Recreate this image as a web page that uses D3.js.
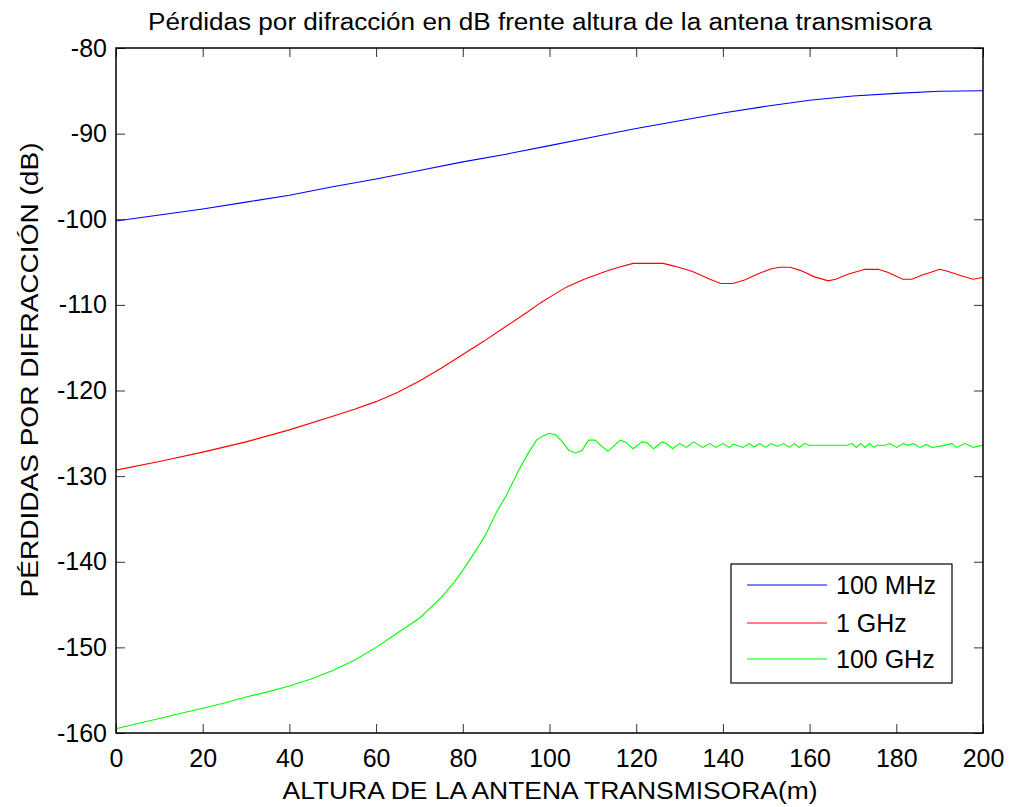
<!DOCTYPE html>
<html>
<head>
<meta charset="utf-8">
<script src="https://cdn.jsdelivr.net/npm/d3@7"></script>
<style>
  html, body { margin: 0; padding: 0; background: #fff; }
  svg { display: block; font-family: "Liberation Sans", Arial, sans-serif; }
</style>
</head>
<body>
<svg id="chart" width="1011" height="807"></svg>
<script>
// ---------- data ----------
const title = "Pérdidas por difracción en dB frente altura de la antena transmisora";
const xLabel = "ALTURA DE LA ANTENA TRANSMISORA(m)";
const yLabel = "PÉRDIDAS POR DIFRACCIÓN (dB)";
const xTicks = [0, 20, 40, 60, 80, 100, 120, 140, 160, 180, 200];
const yTicks = [-80, -90, -100, -110, -120, -130, -140, -150, -160];
const seriesNames = ["100 MHz", "1 GHz", "100 GHz"];

const blueX = [0, 10, 20, 30, 40, 50, 60, 70, 80, 90, 100, 110, 120, 130, 140, 150, 160, 170, 180, 190, 200];
const blueY = [-100.2, -99.5, -98.8, -98.0, -97.2, -96.2, -95.3, -94.3, -93.3, -92.4, -91.4, -90.4, -89.4, -88.5, -87.6, -86.8, -86.1, -85.6, -85.3, -85.05, -85.0];

const redX = [0, 10, 20, 30, 40, 50, 55, 60, 65, 70, 75, 80, 85, 90, 95, 97.8, 101, 104, 108, 113.2, 116, 119.3, 126.2, 129, 133, 137, 139.5, 142.3, 145, 148, 151, 153, 155.5, 158, 161, 164.3, 166, 169, 172.8, 175.8, 178, 181.5, 183.6, 186, 188, 190, 192, 195, 197.7, 200];
const redY = [-129.3, -128.3, -127.2, -126.0, -124.6, -123.0, -122.2, -121.3, -120.2, -118.9, -117.4, -115.8, -114.2, -112.5, -110.8, -109.8, -108.8, -107.9, -107.0, -106.05, -105.6, -105.15, -105.15, -105.5, -106.1, -107.0, -107.5, -107.5, -107.1, -106.4, -105.8, -105.6, -105.6, -106.0, -106.7, -107.2, -107.0, -106.4, -105.85, -105.85, -106.2, -107.0, -107.0, -106.5, -106.2, -105.85, -106.1, -106.6, -107.0, -106.8];

const greenX = [0, 5, 10, 15, 20, 25, 30, 35, 40, 45, 50, 55, 60, 65, 70, 75, 78, 80, 83, 85, 88, 90, 93, 95, 97, 98.5, 100, 101.5, 103, 104.5, 106, 107.5, 109, 110.5, 112, 113.5, 115, 116.3, 117.5, 119.3, 121.3, 122.5, 124, 126, 127, 128.4, 130, 131.6, 133.3, 135.3, 137, 138.4, 140, 141.5, 142.4, 144.6, 146.1, 147.2, 148.5, 149.8, 151.1, 152.6, 154, 155.4, 156.5, 157.6, 158.8, 160, 168.6, 169.8, 170.8, 171.8, 172.8, 173.8, 174.8, 175.6, 177.6, 178.5, 180.1, 181.6, 182.8, 183.9, 185.5, 186.9, 188.2, 190.1, 192.8, 193.9, 195.8, 197.8, 198.9, 200];
const greenY = [-159.5, -158.9, -158.3, -157.7, -157.1, -156.5, -155.8, -155.2, -154.5, -153.7, -152.7, -151.5, -150.0, -148.3, -146.6, -144.2, -142.4, -141.0, -138.7, -137.1, -134.0, -132.3, -129.2, -127.4, -125.8, -125.3, -125.0, -125.2, -126.0, -127.0, -127.3, -127.0, -125.8, -125.8, -126.5, -127.1, -126.4, -125.8, -126.0, -126.8, -126.0, -126.1, -126.8, -126.0, -126.2, -126.8, -126.2, -126.65, -126.0, -126.65, -126.2, -126.65, -126.2, -126.65, -126.25, -126.65, -126.2, -126.6, -126.2, -126.65, -126.2, -126.5, -126.2, -126.65, -126.2, -126.65, -126.2, -126.4, -126.4, -126.2, -126.65, -126.2, -126.65, -126.2, -126.65, -126.4, -126.4, -126.2, -126.65, -126.2, -126.4, -126.2, -126.65, -126.3, -126.65, -126.5, -126.2, -126.65, -126.2, -126.65, -126.5, -126.4];

const colors = ["#0000ff", "#ff0000", "#00ff00"];

// ---------- layout ----------
const padL = 116, padR = 983, padT = 48, padB = 733;
const svg = d3.select("#chart");
const x = d3.scaleLinear().domain([0, 200]).range([padL, padR]);
const y = d3.scaleLinear().domain([-160, -80]).range([padB, padT]);
const fmt = d => String(d);

// title
svg.append("text").attr("x", 540).attr("y", 30).attr("text-anchor", "middle")
  .attr("font-size", 23).attr("textLength", 784).attr("lengthAdjust", "spacingAndGlyphs")
  .text(title);

// series
const series = [[blueX, blueY], [redX, redY], [greenX, greenY]];
const line = d3.line().x(d => x(d[0])).y(d => y(d[1]));
series.forEach((s, i) => {
  const pts = s[0].map((v, j) => [v, s[1][j]]);
  svg.append("path").datum(pts).attr("d", line)
    .attr("fill", "none").attr("stroke", colors[i]).attr("stroke-width", 1.1);
});

// axes with inward ticks
const tickLen = 9;
const xb = svg.append("g").attr("transform", `translate(0,${padB})`)
  .call(d3.axisBottom(x).tickValues(xTicks).tickSize(-tickLen).tickPadding(16).tickFormat(fmt));
const xt = svg.append("g").attr("transform", `translate(0,${padT})`)
  .call(d3.axisTop(x).tickValues(xTicks).tickSize(-tickLen).tickFormat(""));
const yl = svg.append("g").attr("transform", `translate(${padL},0)`)
  .call(d3.axisLeft(y).tickValues(yTicks).tickSize(-tickLen).tickPadding(9).tickFormat(fmt));
const yr = svg.append("g").attr("transform", `translate(${padR},0)`)
  .call(d3.axisRight(y).tickValues(yTicks).tickSize(-tickLen).tickFormat(""));
[xb, xt, yl, yr].forEach(g => {
  g.select(".domain").remove();
  g.selectAll(".tick line").attr("stroke", "#333").attr("stroke-width", 1);
  g.selectAll(".tick text").attr("font-size", 25).attr("fill", "#000")
    .attr("font-family", "'Liberation Sans', Arial, sans-serif");
});
// box
svg.append("rect").attr("x", padL).attr("y", padT).attr("width", padR - padL).attr("height", padB - padT)
  .attr("fill", "none").attr("stroke", "#000").attr("stroke-width", 1.5);

// axis labels
svg.append("text").attr("x", 550).attr("y", 799).attr("text-anchor", "middle")
  .attr("font-size", 23).attr("textLength", 535).attr("lengthAdjust", "spacingAndGlyphs")
  .text(xLabel);
svg.append("text").attr("transform", `translate(38,370) rotate(-90)`).attr("text-anchor", "middle")
  .attr("font-size", 23).attr("textLength", 455).attr("lengthAdjust", "spacingAndGlyphs")
  .text(yLabel);

// legend
const lg = svg.append("g");
lg.append("rect").attr("x", 731).attr("y", 564).attr("width", 221).attr("height", 119)
  .attr("fill", "#fff").attr("stroke", "#000").attr("stroke-width", 1.2);
const rowsY = [585, 623, 659];
seriesNames.forEach((n, i) => {
  lg.append("line").attr("x1", 747).attr("x2", 827).attr("y1", rowsY[i]).attr("y2", rowsY[i])
    .attr("stroke", colors[i]).attr("stroke-width", 1.1);
  lg.append("text").attr("x", 836).attr("y", rowsY[i]).attr("dy", "0.36em")
    .attr("font-size", 25).text(n);
});
</script>
</body>
</html>
